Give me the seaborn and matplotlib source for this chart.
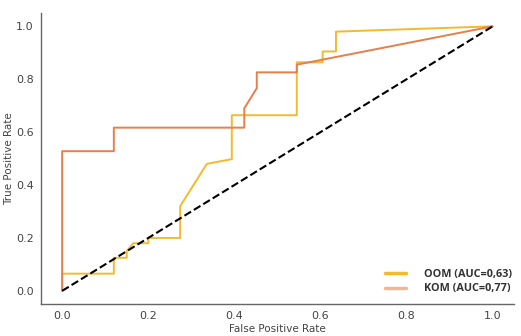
import matplotlib
matplotlib.use("Agg")
import matplotlib.pyplot as plt
from matplotlib.lines import Line2D
import seaborn as sns
import pandas as pd

oom_fpr = [0.0, 0.0, 0.12, 0.12, 0.15, 0.15, 0.165, 0.2, 0.2, 0.274, 0.274, 0.336, 0.394, 0.394, 0.545, 0.545, 0.605, 0.605, 0.636, 0.636, 1.0]
oom_tpr = [0.0, 0.065, 0.065, 0.125, 0.125, 0.15, 0.18, 0.18, 0.2, 0.2, 0.32, 0.48, 0.498, 0.664, 0.664, 0.864, 0.864, 0.905, 0.905, 0.98, 1.0]
kom_fpr = [0.0, 0.0, 0.12, 0.12, 0.423, 0.423, 0.452, 0.452, 0.545, 0.545, 1.0]
kom_tpr = [0.0, 0.528, 0.528, 0.617, 0.617, 0.69, 0.766, 0.826, 0.826, 0.855, 1.0]
diag = [0.0, 1.0]
labels = ["OOM (AUC=0,63)", "KOM (AUC=0,77)"]
colors = ["#F3BA2C", "#E57F4C"]
legend_colors = ["#F3BA2C", "#EDB995"]

sns.set_style("white")
plt.rcParams['font.family'] = ['DejaVu Sans']

df = pd.concat([
    pd.DataFrame({"fpr": oom_fpr, "tpr": oom_tpr, "model": labels[0], "order": range(len(oom_fpr))}),
    pd.DataFrame({"fpr": kom_fpr, "tpr": kom_tpr, "model": labels[1], "order": range(len(kom_fpr))}),
])

fig = plt.figure(figsize=(5.21, 3.36), dpi=100)
ax = fig.add_axes([0.078, 0.095, 0.909, 0.866])

sns.lineplot(data=df, x="fpr", y="tpr", hue="model", palette=dict(zip(labels, colors)),
             sort=False, estimator=None, units="model", lw=1.4, legend=False, ax=ax)
sns.lineplot(x=diag, y=diag, color="black", linestyle="--", lw=1.5, ax=ax)

ax.set_xlim(-0.05, 1.05)
ax.set_ylim(-0.05, 1.05)
ax.set_xticks([0.0, 0.2, 0.4, 0.6, 0.8, 1.0])
ax.set_yticks([0.0, 0.2, 0.4, 0.6, 0.8, 1.0])
ax.set_xticklabels(["0.0", "0.2", "0.4", "0.6", "0.8", "1.0"])
ax.set_yticklabels(["0.0", "0.2", "0.4", "0.6", "0.8", "1.0"])
ax.set_xlabel("False Positive Rate", fontsize=7.5, color="#444444", labelpad=2)
ax.set_ylabel("True Positive Rate", fontsize=7.5, color="#444444", labelpad=1)
ax.tick_params(axis="both", labelsize=8, colors="#444444", direction="in", length=2, width=0.8, pad=5)
for s in ["top", "right"]:
    ax.spines[s].set_visible(False)
for s in ["left", "bottom"]:
    ax.spines[s].set_color("#666666")
    ax.spines[s].set_linewidth(1.0)

handles = [Line2D([0], [0], color=c, lw=2.5) for c in legend_colors]
leg = ax.legend(handles, labels, loc="lower right", frameon=False,
                prop={"family": "Open Sans", "weight": "bold", "size": 7.8},
                handlelength=2.0, handletextpad=1.6, labelspacing=0.3,
                bbox_to_anchor=(1.015, 0.0))
for t in leg.get_texts():
    t.set_color("#333333")

fig.savefig("out.png", dpi=100)
